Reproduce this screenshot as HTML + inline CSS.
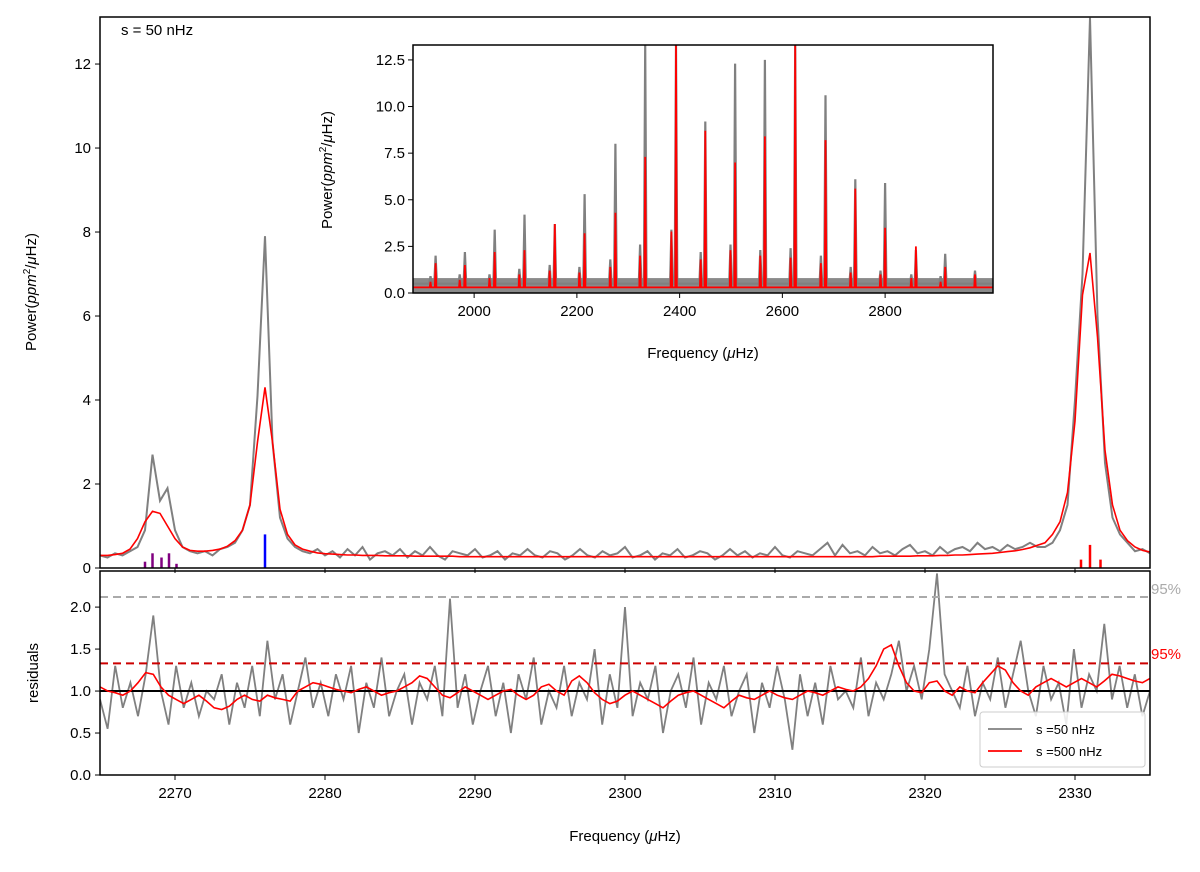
<!DOCTYPE html>
<html><head><meta charset="utf-8"><style>
body{margin:0;background:#fff}
svg{font-family:"Liberation Sans","DejaVu Sans",sans-serif}
</style></head><body>
<svg id="c" width="1200" height="867" viewBox="0 0 1200 867" xmlns="http://www.w3.org/2000/svg"></svg>
<script>
// ---- data (segments: left 2265-2280, mid 2280.5-2327.5, right 2328-2335) ----
const segLeft = [2265, 2280], segMid = [2280.5, 2327.5], segRight = [2328, 2335];
const grayLeft = [.3,.25,.35,.3,.4,.5,.9,2.7,1.6,1.9,.9,.5,.4,.35,.4,.3,.45,.5,.6,.9,1.5,4.1,7.9,3.0,1.2,.7,.5,.4,.35,.45,.3];
const grayMid = [.4,.25,.45,.3,.5,.2,.35,.4,.3,.45,.25,.4,.3,.5,.3,.2,.4,.35,.3,.45,.25,.3,.4,.2,.35,.3,.45,.3,.25,.4,.35,.2,.3,.45,.3,.25,.4,.3,.35,.5,.25,.3,.4,.2,.35,.3,.45,.25,.3,.4,.35,.2,.3,.45,.3,.4,.25,.35,.3,.5,.3,.25,.4,.35,.3,.45,.6,.3,.55,.35,.4,.3,.5,.35,.4,.3,.45,.55,.35,.4,.3,.5,.35,.45,.5,.4,.6,.45,.5,.4,.55,.45,.5,.6,.5];
const grayRight = [.5,.6,.9,1.5,4.0,7,13.1,6,2.5,1.2,.8,.6,.4,.45,.35];
const redLeft = [.3,.3,.32,.35,.45,.7,1.1,1.35,1.3,1.0,.7,.5,.42,.4,.4,.42,.45,.52,.65,.9,1.5,3.0,4.3,3.0,1.4,.8,.55,.45,.4,.36,.34];
const redMid = [.33,.32,.31,.31,.3,.3,.3,.29,.29,.29,.29,.28,.28,.28,.28,.28,.28,.27,.27,.27,.27,.27,.27,.27,.27,.27,.27,.27,.27,.27,.27,.27,.27,.27,.27,.27,.27,.27,.27,.27,.27,.27,.27,.27,.27,.27,.27,.27,.27,.27,.27,.27,.27,.27,.27,.27,.27,.27,.27,.27,.27,.27,.27,.27,.27,.27,.27,.27,.27,.27,.27,.27,.27,.28,.28,.28,.28,.28,.29,.29,.29,.3,.3,.31,.31,.32,.33,.34,.35,.37,.39,.41,.44,.48,.54];
const redRight = [.6,.8,1.1,1.8,3.5,6.5,7.5,5.5,2.8,1.5,.9,.65,.5,.42,.38];
const residRange = [2265, 2335];
const residGray = [.9,.55,1.3,.8,1.1,.7,1.2,1.9,1.0,.6,1.3,.8,1.1,.7,1.0,.9,1.2,.6,1.1,.8,1.3,.7,1.6,.9,1.2,.6,1.0,1.4,.8,1.1,.7,
1.2,.9,1.3,.5,1.1,.8,1.4,.7,1.0,1.2,.6,1.1,.9,1.3,.7,2.1,.8,1.2,.6,1.0,1.3,.7,1.1,.5,1.2,.9,1.4,.6,1.0,.8,1.3,.7,1.1,.9,1.5,.6,1.2,.8,2.0,.7,1.1,.9,1.3,.5,1.0,1.2,.8,1.4,.6,1.1,.9,1.3,.7,1.0,1.2,.5,1.1,.8,1.3,.9,.3,1.2,.7,1.1,.6,1.3,.9,1.0,.8,1.4,.7,1.1,.9,1.2,1.6,1.0,1.3,.9,1.5,2.4,1.2,1.0,.8,1.3,.7,1.1,.9,1.4,.8,1.2,1.6,1.0,.7,1.3,.9,1.1,.6,1.5,.8,1.2,1.0,1.8,.9,1.3,.8,1.2,.7,1.0];
const residRed = [1.05,1.0,.98,.95,1.0,1.1,1.22,1.2,1.05,.95,.9,.85,.9,.95,.88,.8,.78,.82,.9,.95,.9,.88,.95,.92,.9,.88,1.0,1.05,1.1,1.08,1.05,
1.02,1.0,.98,1.02,1.05,1.0,.95,.98,1.0,1.05,1.1,1.18,1.15,1.05,.95,.92,.98,1.05,1.0,.95,.9,.95,1.0,1.02,.95,.9,.95,1.05,1.08,1.0,.95,1.12,1.18,1.1,.98,.9,.85,.88,.95,1.0,.95,.9,.85,.8,.88,.95,.98,1.0,.95,.9,.85,.8,.88,.95,.92,.9,.95,1.0,.95,.92,.9,.95,1.0,.98,.95,1.0,1.05,1.02,1.0,1.05,1.15,1.3,1.5,1.55,1.3,1.1,1.0,.98,1.1,1.12,1.0,.95,1.05,1.0,.98,1.1,1.2,1.3,1.25,1.1,1.0,.95,1.05,1.1,1.15,1.1,1.05,1.1,1.15,1.1,1.05,1.12,1.2,1.18,1.15,1.12,1.1,1.15];
const mainTicksY = [0,2,4,6,8,10,12];
const mainTicksX = [2270,2280,2290,2300,2310,2320,2330];
const residTicksY = [0.0,0.5,1.0,1.5,2.0];
const insetPeakFreq = [1868,1925,1982,2040,2098,2157,2215,2275,2333,2393,2450,2508,2566,2625,2684,2742,2800,2860,2917,2975];
const insetGrayPeak = [1.6,2.0,2.2,3.4,4.2,3.7,5.3,8.0,13.3,13.3,9.2,12.3,12.5,13.3,10.6,6.1,5.9,2.3,2.1,1.2];
const insetRedPeak = [1.0,1.6,1.5,2.2,2.3,3.7,3.2,4.3,7.3,13.3,8.7,7.0,8.4,13.3,8.2,5.6,3.5,2.5,1.4,1.0];
const insetSecFreq = [1915,1972,2030,2088,2147,2205,2265,2323,2384,2441,2499,2557,2616,2675,2733,2791,2851,2908];
const insetSecGray = [.9,1.0,1.0,1.3,1.5,1.4,1.8,2.6,3.4,2.2,2.6,2.3,2.4,2.0,1.4,1.2,1.0,.9];
const insetSecRed = [.6,.7,.8,1.0,1.2,1.1,1.4,2.0,3.3,1.8,2.3,2.0,1.9,1.6,1.1,1.0,.8,.6];
const insetTicksX = [2000,2200,2400,2600,2800];
const insetTicksY = [0.0,2.5,5.0,7.5,10.0,12.5];

// ---- helpers ----
const svg = document.getElementById('c');
const NS = 'http://www.w3.org/2000/svg';
function mk(tag, attrs, parent){const e=document.createElementNS(NS,tag);for(const k in attrs)e.setAttribute(k,attrs[k]);(parent||svg).appendChild(e);return e;}
function txt(s,x,y,opt,parent){const e=mk('text',Object.assign({x:x,y:y,'font-size':15,fill:'#000'},opt||{}),parent);e.textContent=s;return e;}

const M={x0:100,x1:1150,y0:17,y1:568,fmin:2265,fmax:2335,pmax:13.12};
const mx=f=>M.x0+(f-M.fmin)/(M.fmax-M.fmin)*(M.x1-M.x0);
const my=p=>M.y1-Math.min(p,M.pmax)/M.pmax*(M.y1-M.y0);
const R={y0:571,y1:775,rmax:2.43};
const ry=r=>R.y1-Math.min(r,R.rmax)/R.rmax*(R.y1-R.y0);
const I={x0:413,x1:993,y0:45,y1:293,fmin:1881,fmax:3010,pmax:13.3};
const ix=f=>I.x0+(f-I.fmin)/(I.fmax-I.fmin)*(I.x1-I.x0);
const iy=p=>I.y1-Math.min(p,I.pmax)/I.pmax*(I.y1-I.y0);

const clipM=mk('clipPath',{id:'cm'});mk('rect',{x:M.x0,y:M.y0,width:M.x1-M.x0,height:M.y1-M.y0},clipM);
const clipR=mk('clipPath',{id:'cr'});mk('rect',{x:M.x0,y:R.y0,width:M.x1-M.x0,height:R.y1-R.y0},clipR);
const clipI=mk('clipPath',{id:'ci'});mk('rect',{x:I.x0,y:I.y0,width:I.x1-I.x0,height:I.y1-I.y0},clipI);

function pts(arr,range){return arr.map((v,i)=>[range[0]+i*(range[1]-range[0])/(arr.length-1),v]);}
function path(points,fx,fy){return points.map((p,i)=>(i?'L':'M')+fx(p[0]).toFixed(1)+','+fy(p[1]).toFixed(1)).join('');}
const grayPts=[].concat(pts(grayLeft,segLeft),pts(grayMid,segMid),pts(grayRight,segRight));
const redPts=[].concat(pts(redLeft,segLeft),pts(redMid,segMid),pts(redRight,segRight));

let g=mk('g',{'clip-path':'url(#cm)'});
let e=mk('path',{d:path(grayPts,mx,my),fill:'none',stroke:'#808080','stroke-width':2},g);


e=mk('path',{d:path(redPts,mx,my),fill:'none',stroke:'#ff0000','stroke-width':1.6},g);


[[2268,.15,'#800080'],[2268.5,.35,'#800080'],[2269.1,.25,'#800080'],[2269.6,.35,'#800080'],[2270.1,.1,'#800080'],[2276,.8,'#0000ff'],[2330.4,.2,'#ff0000'],[2331,.55,'#ff0000'],[2331.7,.2,'#ff0000']].forEach(m=>{
 const l=mk('line',{x1:mx(m[0]),x2:mx(m[0]),y1:my(0),y2:my(m[1]),stroke:m[2],'stroke-width':2.5},g);
 
 
});
e=mk('rect',{x:M.x0,y:M.y0,width:M.x1-M.x0,height:M.y1-M.y0,fill:'none',stroke:'#000','stroke-width':1.5});


mainTicksY.forEach(t=>{mk('line',{x1:M.x0-5,x2:M.x0,y1:my(t),y2:my(t),stroke:'#000'});const l=txt(String(t),M.x0-9,my(t)+5,{'text-anchor':'end'});});
mainTicksX.forEach(t=>{mk('line',{x1:mx(t),x2:mx(t),y1:M.y1,y2:M.y1+5,stroke:'#000'});});
e=txt('',0,0,{transform:'translate(36,292) rotate(-90)','text-anchor':'middle'});
e.innerHTML='Power(<tspan font-style="italic">ppm</tspan><tspan font-size="10" dy="-6">2</tspan><tspan dy="6">/</tspan><tspan font-style="italic">μ</tspan>Hz)';


e=txt('s = 50 nHz',121,35);



g=mk('g',{'clip-path':'url(#cr)'});
e=mk('path',{d:path(pts(residGray,residRange),mx,ry),fill:'none',stroke:'#808080','stroke-width':1.8},g);


e=mk('line',{x1:M.x0,x2:M.x1,y1:ry(2.12),y2:ry(2.12),stroke:'#aaaaaa','stroke-width':2,'stroke-dasharray':'8,5'},g);


e=mk('line',{x1:M.x0,x2:M.x1,y1:ry(1.33),y2:ry(1.33),stroke:'#cc0000','stroke-width':2,'stroke-dasharray':'8,5'},g);


e=mk('line',{x1:M.x0,x2:M.x1,y1:ry(1),y2:ry(1),stroke:'#000','stroke-width':2},g);


e=mk('path',{d:path(pts(residRed,residRange),mx,ry),fill:'none',stroke:'#ff0000','stroke-width':1.6},g);


e=mk('rect',{x:M.x0,y:R.y0,width:M.x1-M.x0,height:R.y1-R.y0,fill:'none',stroke:'#000','stroke-width':1.5});


residTicksY.forEach(t=>{mk('line',{x1:M.x0-5,x2:M.x0,y1:ry(t),y2:ry(t),stroke:'#000'});const l=txt(t.toFixed(1),M.x0-9,ry(t)+5,{'text-anchor':'end'});});
mainTicksX.forEach(t=>{mk('line',{x1:mx(t),x2:mx(t),y1:R.y1,y2:R.y1+5,stroke:'#000'});const l=txt(String(t),mx(t),R.y1+23,{'text-anchor':'middle'});});
e=txt('95%',1151,594,{fill:'#aaaaaa'});


e=txt('95%',1151,659,{fill:'#ff0000'});


e=txt('residuals',0,0,{transform:'translate(38,673) rotate(-90)','text-anchor':'middle'});


e=txt('',625,841,{'text-anchor':'middle'});
e.innerHTML='Frequency (<tspan font-style="italic">μ</tspan>Hz)';


const lg=mk('g',{});


mk('rect',{x:980,y:712,width:165,height:55,rx:3,fill:'#fff','fill-opacity':.85,stroke:'#ccc'},lg);
mk('line',{x1:988,x2:1022,y1:729,y2:729,stroke:'#808080','stroke-width':1.8},lg);
e=txt('s =50 nHz',1036,734,{'font-size':13},lg);


mk('line',{x1:988,x2:1022,y1:751,y2:751,stroke:'#ff0000','stroke-width':1.8},lg);
e=txt('s =500 nHz',1036,756,{'font-size':13},lg);



e=mk('rect',{x:I.x0,y:I.y0,width:I.x1-I.x0,height:I.y1-I.y0,fill:'#fff'});


g=mk('g',{'clip-path':'url(#ci)'});
function peaksPath(freqs,heights,sf,sh,base,w){
 const p=[];freqs.forEach((f,i)=>p.push([f,heights[i]]));sf.forEach((f,i)=>p.push([f,sh[i]]));
 p.sort((a,b)=>a[0]-b[0]);
 let d='M'+I.x0+','+iy(base);
 p.forEach(q=>{d+='L'+ix(q[0]-w).toFixed(1)+','+iy(base)+'L'+ix(q[0]).toFixed(1)+','+iy(q[1]).toFixed(1)+'L'+ix(q[0]+w).toFixed(1)+','+iy(base);});
 return d+'L'+I.x1+','+iy(base);
}
e=mk('rect',{x:I.x0,y:iy(0.8),width:I.x1-I.x0,height:iy(0)-iy(0.8),fill:'#8a8a8a'},g);


e=mk('path',{d:peaksPath(insetPeakFreq,insetGrayPeak,insetSecFreq,insetSecGray,0.5,2.5),fill:'none',stroke:'#808080','stroke-width':2.2},g);


e=mk('path',{d:peaksPath(insetPeakFreq,insetRedPeak,insetSecFreq,insetSecRed,0.3,1.5),fill:'none',stroke:'#ff0000','stroke-width':1.8},g);


e=mk('rect',{x:I.x0,y:I.y0,width:I.x1-I.x0,height:I.y1-I.y0,fill:'none',stroke:'#000','stroke-width':1.5});


insetTicksY.forEach(t=>{mk('line',{x1:I.x0-5,x2:I.x0,y1:iy(t),y2:iy(t),stroke:'#000'});const l=txt(t.toFixed(1),I.x0-8,iy(t)+5,{'text-anchor':'end'});});
insetTicksX.forEach(t=>{mk('line',{x1:ix(t),x2:ix(t),y1:I.y1,y2:I.y1+5,stroke:'#000'});const l=txt(String(t),ix(t),I.y1+23,{'text-anchor':'middle'});});
e=txt('',0,0,{transform:'translate(332,170) rotate(-90)','text-anchor':'middle'});
e.innerHTML='Power(<tspan font-style="italic">ppm</tspan><tspan font-size="10" dy="-6">2</tspan><tspan dy="6">/</tspan><tspan font-style="italic">μ</tspan>Hz)';


e=txt('',703,358,{'text-anchor':'middle'});
e.innerHTML='Frequency (<tspan font-style="italic">μ</tspan>Hz)';


</script>
</body></html>
